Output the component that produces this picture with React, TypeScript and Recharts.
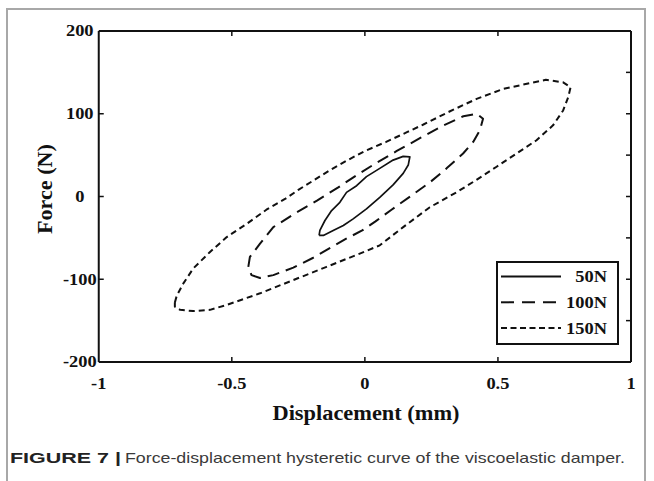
import React from "react";
import { ScatterChart, Scatter, XAxis, YAxis, Legend } from "recharts";

const SERIF = "'Liberation Serif', 'Times New Roman', serif";
const SANS = "'Liberation Sans', Arial, sans-serif";
const INK = "#111";

// axis ticks
const xTicks = [-1, -0.5, 0, 0.5, 1];
const xTicksTop = [-0.5, 0, 0.5];
const yTicks = [-200, -100, 0, 100, 200];
const yTicksRight = [-150, -100, -50, 0, 50, 100, 150];

// hysteresis loops, displacement (mm) vs force (N)
const loop50 = [
  { x: -0.172, y: -47 }, { x: -0.169, y: -41 }, { x: -0.15, y: -29 }, { x: -0.125, y: -17 },
  { x: -0.094, y: -7 }, { x: -0.069, y: 5 }, { x: -0.031, y: 13 }, { x: 0.006, y: 24 },
  { x: 0.056, y: 34 }, { x: 0.106, y: 44 }, { x: 0.144, y: 48.5 }, { x: 0.169, y: 48 },
  { x: 0.163, y: 38 }, { x: 0.144, y: 28 }, { x: 0.106, y: 14 }, { x: 0.056, y: -1 },
  { x: 0.006, y: -15 }, { x: -0.044, y: -27 }, { x: -0.081, y: -35 }, { x: -0.119, y: -41 },
  { x: -0.156, y: -47 }, { x: -0.172, y: -47 },
];

const loop100 = [
  { x: -0.438, y: -85 }, { x: -0.432, y: -73 }, { x: -0.394, y: -57 }, { x: -0.344, y: -37 },
  { x: -0.26, y: -20 }, { x: -0.18, y: -5 }, { x: -0.1, y: 11 }, { x: -0.03, y: 26 },
  { x: 0.04, y: 40 }, { x: 0.12, y: 55 }, { x: 0.21, y: 71 }, { x: 0.29, y: 85 },
  { x: 0.37, y: 97 }, { x: 0.42, y: 100 }, { x: 0.444, y: 94 }, { x: 0.432, y: 80 },
  { x: 0.407, y: 66 }, { x: 0.369, y: 52 }, { x: 0.307, y: 34 }, { x: 0.244, y: 17 },
  { x: 0.17, y: 0 }, { x: 0.1, y: -16 }, { x: 0.04, y: -30 }, { x: -0.01, y: -41 },
  { x: -0.07, y: -51 }, { x: -0.13, y: -62 }, { x: -0.194, y: -74 }, { x: -0.269, y: -86 },
  { x: -0.344, y: -95 }, { x: -0.394, y: -98.5 }, { x: -0.426, y: -95 }, { x: -0.438, y: -85 },
];

const loop150 = [
  { x: -0.714, y: -128 }, { x: -0.707, y: -120 }, { x: -0.682, y: -105 }, { x: -0.645, y: -87 },
  { x: -0.582, y: -67 }, { x: -0.519, y: -49 }, { x: -0.444, y: -33 }, { x: -0.37, y: -16 },
  { x: -0.3, y: -3 }, { x: -0.25, y: 8 }, { x: -0.19, y: 20 }, { x: -0.13, y: 32 },
  { x: -0.07, y: 43 }, { x: 0.0, y: 55 }, { x: 0.08, y: 66 }, { x: 0.16, y: 78 },
  { x: 0.22, y: 87 }, { x: 0.32, y: 103 }, { x: 0.42, y: 118 }, { x: 0.52, y: 130 },
  { x: 0.62, y: 137 }, { x: 0.68, y: 141 }, { x: 0.745, y: 138 }, { x: 0.773, y: 132 },
  { x: 0.764, y: 120 }, { x: 0.745, y: 104 }, { x: 0.707, y: 86 }, { x: 0.645, y: 68 },
  { x: 0.57, y: 52 }, { x: 0.495, y: 36 }, { x: 0.419, y: 20 }, { x: 0.344, y: 5 },
  { x: 0.244, y: -13 }, { x: 0.144, y: -37 }, { x: 0.056, y: -59 }, { x: -0.019, y: -69 },
  { x: -0.144, y: -85 }, { x: -0.269, y: -101 }, { x: -0.394, y: -117 }, { x: -0.519, y: -131 },
  { x: -0.582, y: -137 }, { x: -0.645, y: -138.5 }, { x: -0.694, y: -137 }, { x: -0.714, y: -133 },
  { x: -0.714, y: -128 },
];

const seriesNames = ["50N", "100N", "150N"];
const series = [
  { name: seriesNames[0], data: loop50, dash: undefined, legendDash: undefined, width: 1.7 },
  { name: seriesNames[1], data: loop100, dash: "12 7", legendDash: "13 8", width: 2 },
  { name: seriesNames[2], data: loop150, dash: "6 4", legendDash: "6 3.5", width: 2 },
];

// plot box edges (px), used for the inward tick marks
const BOX = { left: 98.75, right: 631, top: 31, bottom: 362 };
const TICK = 5;

// the source figure is a bit stretched sideways, so stretch text to match
const stretch = (x: number, y: number, k = 1.15) =>
  `translate(${x},${y}) scale(${k},1) translate(${-x},${-y})`;

const XTick = (props: any) => {
  const { x, y, payload } = props;
  const inner = Math.abs(payload.value) < 1;
  return (
    <g>
      {inner && <line x1={x} x2={x} y1={BOX.bottom} y2={BOX.bottom - TICK} stroke={INK} strokeWidth={1.5} />}
      <text x={x} y={y + 11.5} textAnchor="middle" fontFamily={SERIF} fontWeight={700}
        fontSize={16} fill={INK} transform={stretch(x, y)}>
        {payload.value}
      </text>
    </g>
  );
};

const TopTick = (props: any) => {
  const { x } = props;
  return <line x1={x} x2={x} y1={BOX.top} y2={BOX.top + TICK} stroke={INK} strokeWidth={1.5} />;
};

const YTick = (props: any) => {
  const { x, y, payload } = props;
  const cx = x - 14;
  const inner = Math.abs(payload.value) < 200;
  return (
    <g>
      {inner && <line x1={BOX.left} x2={BOX.left + TICK} y1={y} y2={y} stroke={INK} strokeWidth={1.5} />}
      <text x={cx} y={y + 5.5} textAnchor="middle" fontFamily={SERIF} fontWeight={700}
        fontSize={16} fill={INK} transform={stretch(cx, y)}>
        {payload.value}
      </text>
    </g>
  );
};

const RightTick = (props: any) => {
  const { y } = props;
  return <line x1={BOX.right} x2={BOX.right - TICK} y1={y} y2={y} stroke={INK} strokeWidth={1.5} />;
};

const XTitle = () => (
  <text x={366} y={420} textAnchor="middle" fontFamily={SERIF} fontWeight={700}
    fontSize={22} fill={INK} textLength={187} lengthAdjust="spacingAndGlyphs">
    Displacement (mm)
  </text>
);

const YTitle = () => (
  <text x={0} y={0} textAnchor="middle" fontFamily={SERIF} fontWeight={700}
    fontSize={22} fill={INK} textLength={90} lengthAdjust="spacingAndGlyphs"
    transform="translate(52,189) rotate(-90)">
    Force (N)
  </text>
);

const LegendBox = () => (
  <svg width={123} height={84} style={{ display: "block" }}>
    <rect x={1} y={1} width={121} height={82} fill="#fff" stroke={INK} strokeWidth={2} />
    {series.map((s, i) => {
      const y = 15.5 + i * 25.8;
      return (
        <g key={s.name}>
          <line x1={5} x2={65} y1={y} y2={y} stroke={INK} strokeWidth={2}
            strokeDasharray={s.legendDash} />
          <text x={111} y={y + 5.5} textAnchor="end" fontFamily={SERIF} fontWeight={700}
            fontSize={16} fill={INK} transform={stretch(111, y)}>
            {s.name}
          </text>
        </g>
      );
    })}
  </svg>
);

const axisLine = { stroke: INK, strokeWidth: 2 };

const App = () => {
  return (
    <div style={{ position: "absolute", left: 0, top: 0, width: 654, height: 481, background: "#fff", overflow: "hidden" }}>
      <div style={{ position: "absolute", left: 6, top: 8, width: 636, height: 500, border: "2px solid #a8a8a8", borderBottom: "none" }} />
      <div style={{ position: "absolute", left: 0, top: 0 }}>
        <ScatterChart width={654} height={481} margin={{ top: 30, right: 22, bottom: 89, left: 38.75 }}>
          <XAxis xAxisId="b" type="number" dataKey="x" domain={[-1, 1]} ticks={xTicks}
            allowDataOverflow interval={0} height={30} tickLine={false} tickMargin={10}
            axisLine={axisLine} tick={<XTick />} label={XTitle} />
          <XAxis xAxisId="t" orientation="top" type="number" dataKey="x" domain={[-1, 1]}
            ticks={xTicksTop} allowDataOverflow interval={0} height={1} tickLine={false}
            axisLine={axisLine} tick={<TopTick />} />
          <YAxis yAxisId="l" type="number" dataKey="y" domain={[-200, 200]} ticks={yTicks}
            allowDataOverflow interval={0} width={60} tickLine={false} tickMargin={-1}
            axisLine={axisLine} tick={<YTick />} label={YTitle} />
          <YAxis yAxisId="r" orientation="right" type="number" dataKey="y" domain={[-200, 200]}
            ticks={yTicksRight} allowDataOverflow interval={0} width={1} tickLine={false}
            axisLine={axisLine} tick={<RightTick />} />
          {series.map((s) => (
            <Scatter key={s.name} name={s.name} data={s.data} xAxisId="b" yAxisId="l"
              fill="none" legendType="none" isAnimationActive={false}
              line={{ stroke: INK, strokeWidth: s.width, strokeDasharray: s.dash, strokeLinejoin: "round" }}
              shape={() => <g />} />
          ))}
          <Legend layout="horizontal" verticalAlign="middle" align="center"
            content={() => <LegendBox />}
            wrapperStyle={{ left: 496, top: 261, width: 123, height: 84 }} />
        </ScatterChart>
      </div>
      <svg width={654} height={40} style={{ position: "absolute", left: 0, top: 440 }}>
        <text x={10} y={23} fontFamily={SANS} fontWeight={700} fontSize={15} fill="#222"
          textLength={111} lengthAdjust="spacingAndGlyphs">
          FIGURE 7 |
        </text>
        <text x={125} y={23} fontFamily={SANS} fontSize={15} fill="#3a3a3a"
          textLength={500} lengthAdjust="spacingAndGlyphs">
          Force-displacement hysteretic curve of the viscoelastic damper.
        </text>
      </svg>
    </div>
  );
};

export default App;
